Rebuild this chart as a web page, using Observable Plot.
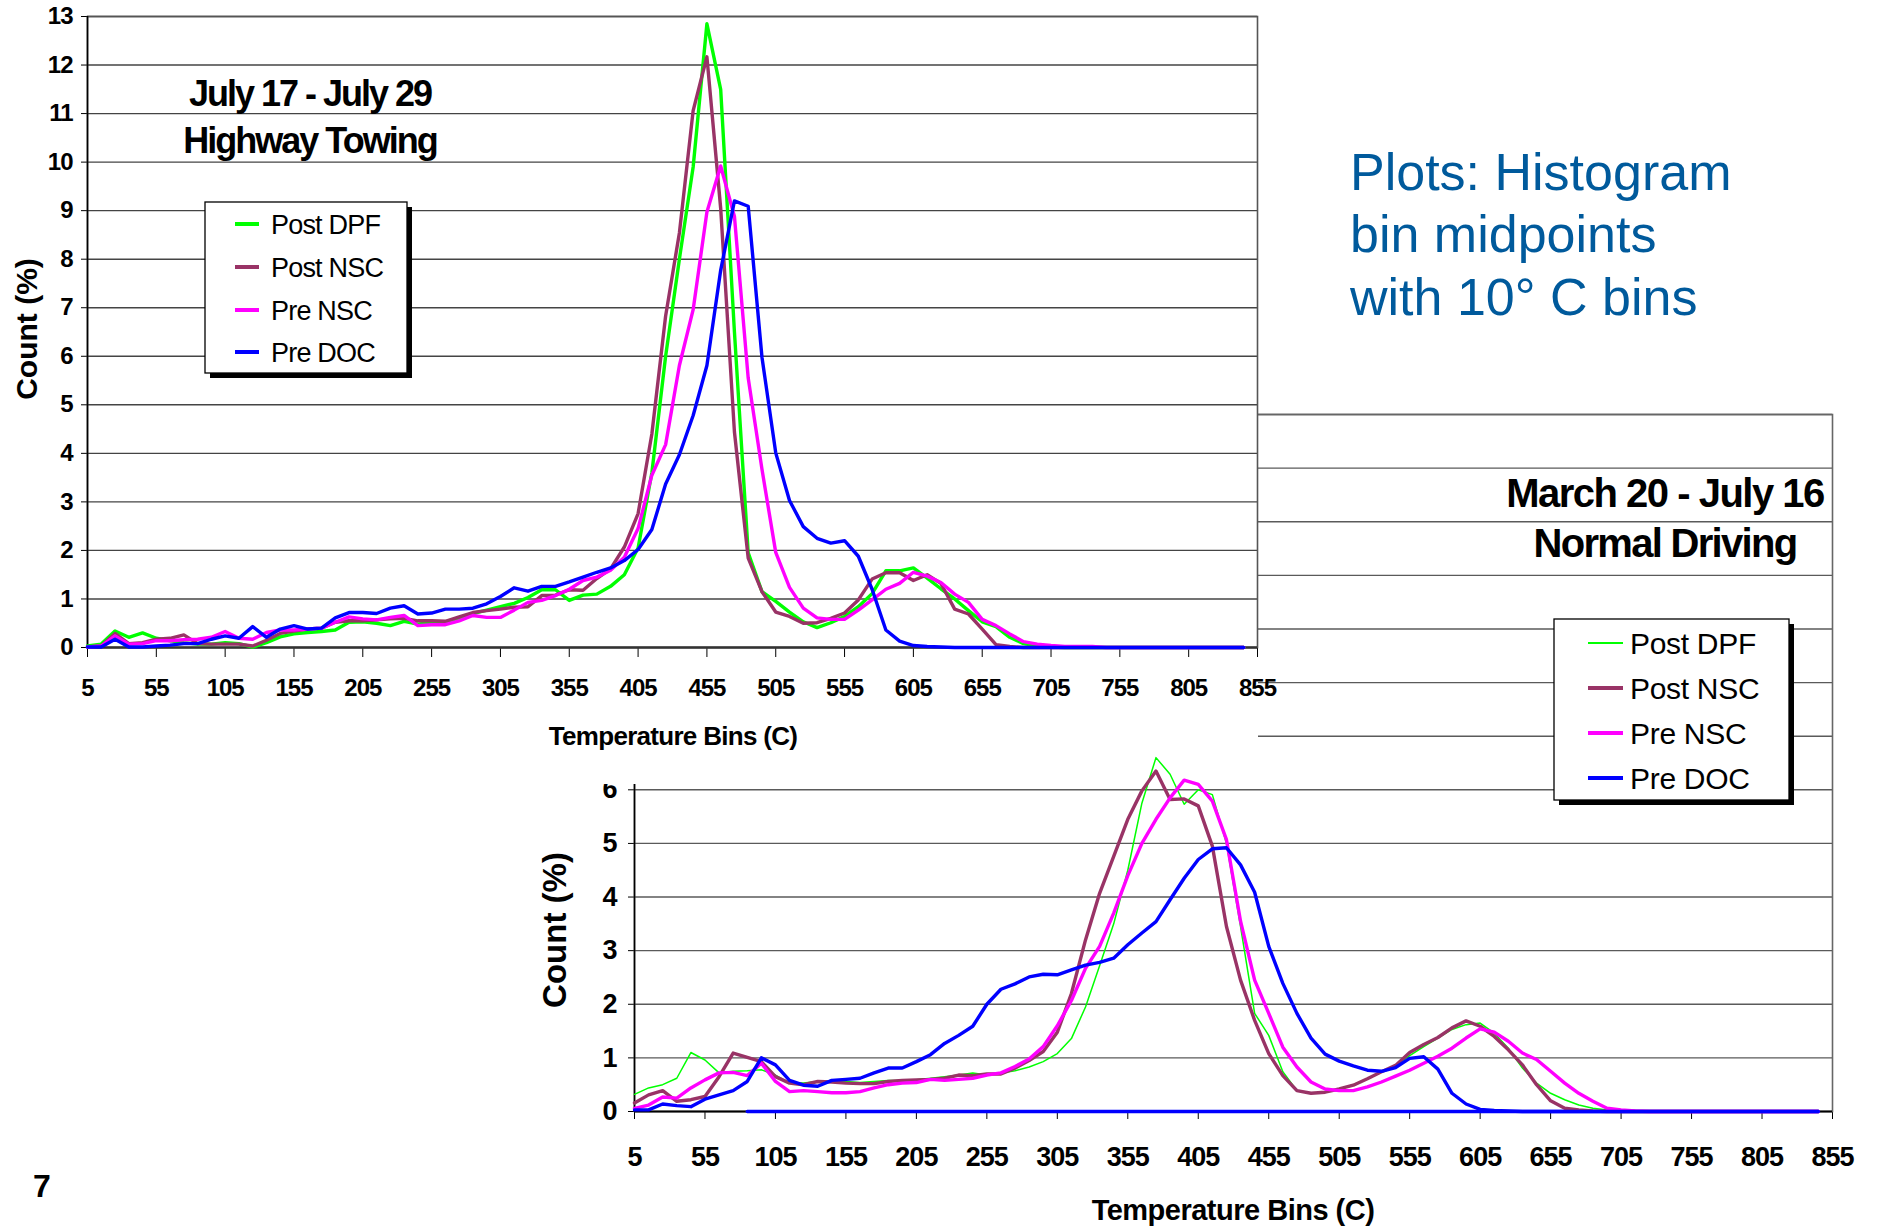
<!DOCTYPE html>
<html><head><meta charset="utf-8">
<script src="https://cdn.jsdelivr.net/npm/d3@7"></script>
<script src="https://cdn.jsdelivr.net/npm/@observablehq/plot@0.6"></script>
<style>
html,body{margin:0;padding:0;background:#fff;}
#stage{position:relative;width:1877px;height:1230px;overflow:hidden;background:#fff;}
#stage > svg{position:absolute;left:0;top:0;}
</style></head><body><div id="stage"></div>
<script>
// ---------- DATA ----------
const bins = [5,15,25,35,45,55,65,75,85,95,105,115,125,135,145,155,165,175,185,195,205,215,225,235,245,255,265,275,285,295,305,315,325,335,345,355,365,375,385,395,405,415,425,435,445,455,465,475,485,495,505,515,525,535,545,555,565,575,585,595,605,615,625,635,645,655,665,675,685,695,705,715,725,735,745,755,765,775,785,795,805,815,825,835,845];
const xTicks = [5,55,105,155,205,255,305,355,405,455,505,555,605,655,705,755,805,855];
const yTicks = [0,1,2,3,4,5,6,7,8,9,10,11,12,13];
const bottomYLabels = [0,1,2,3,4,5,6]; // only these labels are not hidden behind the top chart
const seriesNames = ["Post DPF","Post NSC","Pre NSC","Pre DOC"];
const seriesColors = ["#00ff00","#993366","#ff00ff","#0000ff"];

// Top chart: July 17 - July 29, Highway Towing
const topPostDPF = [0.03,0.07,0.34,0.21,0.30,0.19,0.14,0.10,0.07,0.07,
 0.10,0.08,0.01,0.10,0.22,0.28,0.31,0.33,0.36,0.52,
 0.53,0.50,0.45,0.54,0.48,0.52,0.53,0.61,0.70,0.77,
 0.84,0.91,1.03,1.19,1.19,0.97,1.08,1.10,1.26,1.50,
 2.05,3.60,6.00,8.00,9.90,12.85,11.50,6.50,1.95,1.15,
 0.95,0.73,0.53,0.41,0.51,0.64,0.84,1.11,1.58,1.58,
 1.64,1.43,1.21,1.00,0.76,0.53,0.43,0.21,0.08,0.03,
 0.01,0,0,0,0,0,0,0,0,0,
 0,0,0,0,0];
const topPostNSC = [0.01,0.03,0.29,0.08,0.10,0.17,0.19,0.26,0.08,0.07,
 0.07,0.07,0.03,0.15,0.29,0.34,0.38,0.40,0.52,0.55,
 0.55,0.57,0.59,0.60,0.55,0.55,0.54,0.63,0.72,0.76,
 0.79,0.83,0.84,1.07,1.08,1.19,1.18,1.42,1.62,2.07,
 2.76,4.40,6.83,8.54,11.06,12.17,9.05,4.44,1.84,1.15,
 0.73,0.64,0.50,0.51,0.60,0.71,0.98,1.41,1.54,1.54,
 1.38,1.50,1.32,0.79,0.69,0.38,0.06,0.02,0,0,
 0,0,0,0,0,0,0,0,0,0,
 0,0,0,0,0];
const topPreNSC = [0.01,0.03,0.24,0.07,0.08,0.14,0.14,0.16,0.17,0.21,
 0.33,0.19,0.17,0.31,0.36,0.36,0.38,0.40,0.52,0.63,
 0.59,0.57,0.62,0.66,0.45,0.47,0.47,0.55,0.66,0.62,
 0.62,0.77,0.93,0.97,1.07,1.20,1.38,1.45,1.59,1.86,
 2.45,3.55,4.18,5.81,6.96,8.97,9.92,8.88,5.55,3.67,
 1.96,1.24,0.81,0.61,0.58,0.58,0.77,0.98,1.20,1.32,
 1.55,1.47,1.34,1.10,0.93,0.58,0.45,0.28,0.12,0.07,
 0.04,0.02,0.02,0.02,0,0,0,0,0,0,
 0,0,0,0,0];
const topPreDOC = [0.01,0.01,0.17,0.01,0.01,0.03,0.05,0.08,0.08,0.17,
 0.24,0.19,0.43,0.21,0.38,0.45,0.38,0.40,0.61,0.72,
 0.72,0.70,0.81,0.86,0.69,0.71,0.79,0.79,0.81,0.90,
 1.05,1.23,1.16,1.26,1.26,1.35,1.45,1.55,1.64,1.79,
 2.02,2.43,3.37,3.97,4.78,5.81,7.77,9.20,9.09,5.98,
 4.01,3.03,2.49,2.25,2.15,2.20,1.88,1.20,0.36,0.13,
 0.04,0.02,0.01,0,0,0,0,0,0,0,
 0,0,0,0,0,0,0,0,0,0,
 0,0,0,0,0];

// Bottom chart: March 20 - July 16, Normal Driving
const botPostDPF = [0.32,0.44,0.50,0.62,1.10,0.96,0.72,0.75,0.76,0.78,
 0.68,0.53,0.53,0.56,0.58,0.56,0.54,0.56,0.58,0.58,
 0.59,0.62,0.65,0.68,0.72,0.68,0.72,0.76,0.83,0.93,
 1.08,1.36,1.95,2.72,3.50,4.50,5.75,6.60,6.29,5.73,
 6.00,5.91,5.00,3.45,1.83,1.42,0.74,0.39,0.34,0.36,
 0.42,0.50,0.61,0.74,0.86,1.04,1.21,1.37,1.53,1.62,
 1.65,1.46,1.18,0.81,0.53,0.34,0.22,0.12,0.06,0.03,
 0.01,0,0,0,0,0,0,0,0,0,
 0,0,0,0,0];
const botPostNSC = [0.16,0.31,0.39,0.19,0.22,0.28,0.65,1.09,1.01,0.93,
 0.65,0.53,0.50,0.56,0.55,0.53,0.52,0.52,0.56,0.58,
 0.59,0.60,0.62,0.68,0.67,0.70,0.70,0.81,0.95,1.12,
 1.48,2.20,3.20,4.07,4.76,5.45,5.98,6.35,5.82,5.83,
 5.70,4.95,3.45,2.45,1.70,1.08,0.67,0.39,0.34,0.36,
 0.42,0.49,0.61,0.74,0.86,1.10,1.25,1.38,1.56,1.69,
 1.59,1.40,1.15,0.87,0.50,0.20,0.06,0.03,0.01,0,
 0,0,0,0,0,0,0,0,0,0,
 0,0,0,0,0];
const botPreNSC = [0.06,0.12,0.27,0.25,0.44,0.59,0.72,0.73,0.67,0.90,
 0.56,0.37,0.39,0.37,0.35,0.35,0.37,0.44,0.50,0.53,
 0.54,0.60,0.58,0.60,0.62,0.68,0.72,0.84,0.98,1.21,
 1.60,2.07,2.67,3.08,3.70,4.40,5.00,5.45,5.85,6.18,
 6.10,5.79,5.07,3.55,2.45,1.83,1.20,0.83,0.55,0.42,
 0.39,0.39,0.46,0.55,0.66,0.77,0.90,1.03,1.18,1.37,
 1.54,1.48,1.31,1.09,0.97,0.75,0.53,0.34,0.19,0.06,
 0.03,0.01,0,0,0,0,0,0,0,0,
 0,0,0,0,0];
const botPreDOC = [0.03,0.03,0.14,0.11,0.09,0.23,0.31,0.39,0.56,1.00,
 0.87,0.58,0.49,0.47,0.58,0.60,0.62,0.72,0.81,0.81,
 0.93,1.06,1.27,1.42,1.59,2.00,2.28,2.38,2.51,2.56,
 2.55,2.64,2.73,2.78,2.86,3.11,3.33,3.54,3.95,4.35,
 4.70,4.90,4.92,4.60,4.09,3.08,2.39,1.83,1.37,1.07,
 0.94,0.85,0.77,0.75,0.82,0.99,1.02,0.79,0.34,0.14,
 0.04,0.02,0.01,0,0,0,0,0,0,0,
 0,0,0,0,0,0,0,0,0,0,
 0,0,0,0,0];
// extra flat blue series lying on the zero line of the bottom chart
const botFlatBins = [85, 845];
const botFlatValues = [0, 0];

// ---------- RENDER ----------
const FONT = '"Liberation Sans", Arial, Helvetica, sans-serif';
const stage = document.getElementById("stage");
const rows = (xs, vs) => xs.map((b, i) => ({bin: b, v: vs[i]}));
const line = (xs, vs, color, w) => Plot.line(rows(xs, vs), {x: "bin", y: "v", stroke: color, strokeWidth: w, strokeLinejoin: "round", strokeLinecap: "round"});
const fmt = d => String(d);

// Layer A: bottom chart frame, grid, axes
const bottomDims = {width: 1877, height: 1230, marginLeft: 634, marginRight: 45, marginTop: 414, marginBottom: 119};
const bottomGrid = Plot.plot({
  ...bottomDims,
  style: {background: "transparent", fontFamily: FONT, fontSize: "27px", fontWeight: "bold", letterSpacing: "-1px", overflow: "visible", color: "#000"},
  x: {domain: [5, 855], ticks: xTicks, tickSize: 8, tickPadding: 27, tickFormat: fmt, label: null},
  y: {domain: [0, 13], ticks: bottomYLabels, tickSize: 6, tickPadding: 12, tickFormat: fmt, label: null},
  marks: [
    Plot.ruleY(yTicks.slice(1), {stroke: "#5a5a5a", strokeWidth: 1.4}),
    Plot.frame({stroke: "#666", strokeWidth: 1.6}),
    Plot.ruleX([xTicks[0]], {stroke: "#000", strokeWidth: 1.6}),
    Plot.ruleY([yTicks[0]], {stroke: "#000", strokeWidth: 2})
  ]
});
stage.appendChild(bottomGrid);

// Layer B: top chart (white chart area in front)
const topChart = Plot.plot({
  width: 1258, height: 784, marginLeft: 87, marginRight: 1, marginTop: 16, marginBottom: 137,
  style: {background: "#fff", fontFamily: FONT, fontSize: "24px", fontWeight: "bold", letterSpacing: "-1px", overflow: "visible", color: "#000"},
  x: {domain: [5, 855], ticks: xTicks, tickSize: 10, tickPadding: 21, tickFormat: fmt, label: null},
  y: {domain: [0, 13], ticks: yTicks, tickSize: 6, tickPadding: 9, tickFormat: fmt, label: null},
  marks: [
    Plot.ruleY(yTicks.slice(1), {stroke: "#444", strokeWidth: 1.4}),
    Plot.frame({stroke: "#555", strokeWidth: 1.6}),
    Plot.ruleX([xTicks[0]], {stroke: "#000", strokeWidth: 1.6}),
    Plot.ruleY([yTicks[0]], {stroke: "#333", strokeWidth: 2.4}),
    line(bins, topPostDPF, seriesColors[0], 3.4),
    line(bins, topPostNSC, seriesColors[1], 3.4),
    line(bins, topPreNSC, seriesColors[2], 3.4),
    line(bins, topPreDOC, seriesColors[3], 3.4)
  ]
});
stage.appendChild(topChart);

// Layer C: bottom chart data lines
const bottomLines = Plot.plot({
  ...bottomDims,
  style: {background: "transparent", overflow: "visible"},
  x: {domain: [5, 855], axis: null},
  y: {domain: [0, 13], axis: null},
  marks: [
    line(botFlatBins, botFlatValues, seriesColors[3], 3.4),
    line(bins, botPostDPF, seriesColors[0], 1.5),
    line(bins, botPostNSC, seriesColors[1], 3.4),
    line(bins, botPreNSC, seriesColors[2], 3.4),
    line(bins, botPreDOC, seriesColors[3], 3.4)
  ]
});
stage.appendChild(bottomLines);

// Layer D: annotations and legends
const ov = d3.create("svg").attr("width", 1877).attr("height", 1230)
  .style("position", "absolute").style("left", "0px").style("top", "0px")
  .style("font-family", FONT);

function txt(x, y, s, size, opts = {}) {
  const t = ov.append("text").attr("x", x).attr("y", y).text(s)
    .attr("font-size", size).attr("font-weight", opts.weight || "normal")
    .attr("fill", opts.fill || "#000").attr("text-anchor", opts.anchor || "start");
  if (opts.ls) t.attr("letter-spacing", opts.ls);
  if (opts.rotate) t.attr("transform", `rotate(${opts.rotate},${x},${y})`);
  return t;
}

// top chart texts
txt(310, 106, "July 17 - July 29", 36, {weight: "bold", anchor: "middle", ls: "-2px"});
txt(310, 153, "Highway Towing", 36, {weight: "bold", anchor: "middle", ls: "-2px"});
txt(673, 745, "Temperature Bins (C)", 26, {weight: "bold", anchor: "middle", ls: "-0.7px"});
txt(37, 329, "Count (%)", 30, {weight: "bold", anchor: "middle", rotate: -90});

// bottom chart texts
txt(1665, 507, "March 20 - July 16", 40, {weight: "bold", anchor: "middle", ls: "-1.5px"});
txt(1665, 557, "Normal Driving", 40, {weight: "bold", anchor: "middle", ls: "-1.7px"});
txt(1233, 1220, "Temperature Bins (C)", 29, {weight: "bold", anchor: "middle", ls: "-0.5px"});
txt(566, 930, "Count (%)", 33, {weight: "bold", anchor: "middle", rotate: -90});

// note text
const noteLines = ["Plots: Histogram", "bin midpoints", "with 10° C bins"];
const noteBaselines = [190, 252, 315];
noteLines.forEach((s, i) => txt(1350, noteBaselines[i], s, 52, {fill: "#005a9c"}));

// slide number
txt(33, 1197, "7", 32, {weight: "bold"});

// legends
function legend(bx, by, bw, bh, lineYs, lx1, lx2, tx, size, widths, ls, dy) {
  ov.append("rect").attr("x", bx + 5).attr("y", by + 5).attr("width", bw).attr("height", bh).attr("fill", "#000");
  ov.append("rect").attr("x", bx).attr("y", by).attr("width", bw).attr("height", bh)
    .attr("fill", "#fff").attr("stroke", "#000").attr("stroke-width", 1.3);
  seriesNames.forEach((name, i) => {
    ov.append("line").attr("x1", lx1).attr("x2", lx2).attr("y1", lineYs[i]).attr("y2", lineYs[i])
      .attr("stroke", seriesColors[i]).attr("stroke-width", widths[i]);
    txt(tx, lineYs[i] + dy, name, size, {ls});
  });
}
legend(205, 202, 202, 171, [224, 267, 310, 352], 235, 259, 271, 27, [4, 4, 4, 4], "-0.8px", 10);
legend(1554, 619, 235, 181, [643, 688, 733, 778], 1588, 1623, 1630, 30, [2, 4, 4, 4], "-0.3px", 11);

stage.appendChild(ov.node());
</script>
</body></html>
